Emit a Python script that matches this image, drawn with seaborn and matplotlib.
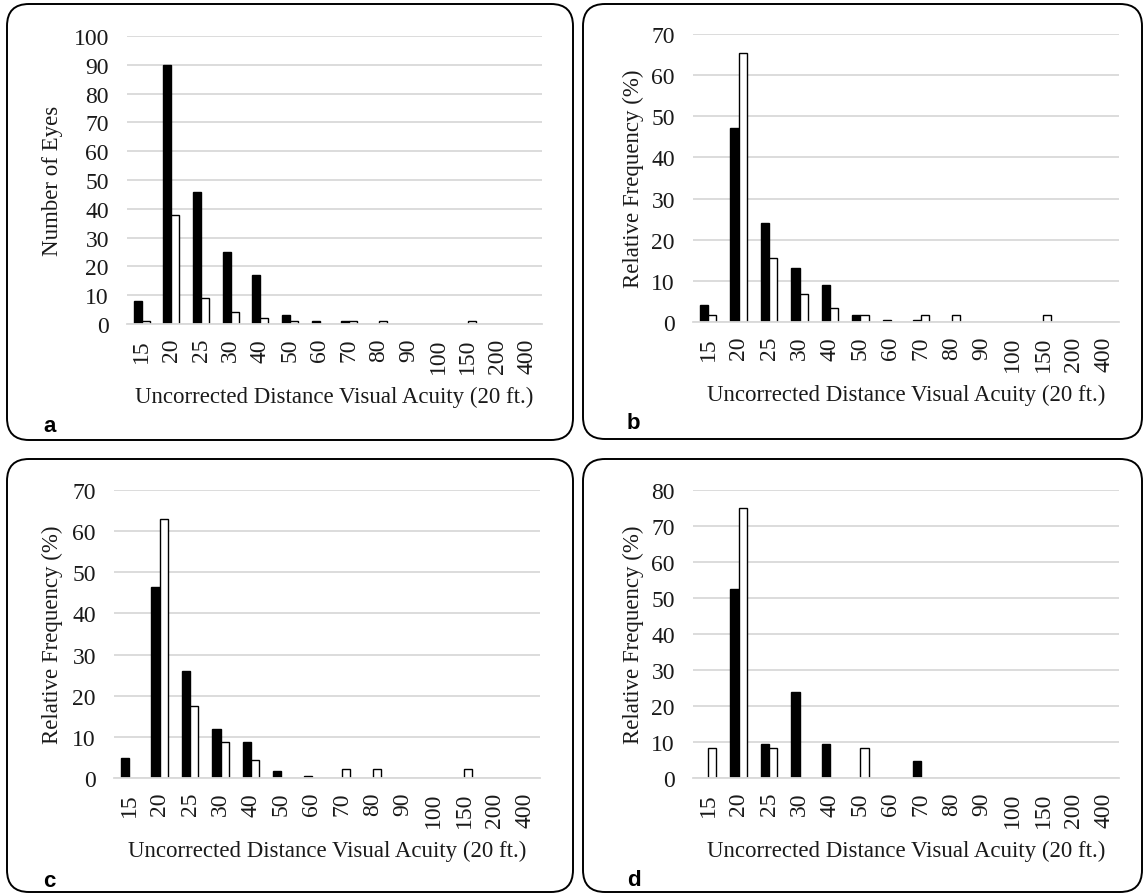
import matplotlib
matplotlib.use("Agg")
import matplotlib.pyplot as plt
from matplotlib.patches import FancyBboxPatch
from matplotlib.transforms import IdentityTransform
import numpy as np
import pandas as pd
import seaborn as sns

# ---------------- data ----------------
categories = ["15", "20", "25", "30", "40", "50", "60", "70", "80", "90",
              "100", "150", "200", "400"]

a_black = [8, 90, 46, 25, 17, 3, 1, 1, 0, 0, 0, 0, 0, 0]
a_white = [1, 38, 9, 4, 2, 1, 0, 1, 1, 0, 0, 1, 0, 0]

b_black = [4.2, 47.1, 24.1, 13.1, 8.9, 1.6, 0.5, 0.5, 0, 0, 0, 0, 0, 0]
b_white = [1.7, 65.5, 15.5, 6.9, 3.4, 1.7, 0, 1.7, 1.7, 0, 0, 1.7, 0, 0]

c_black = [4.8, 46.5, 26.0, 11.8, 8.7, 1.7, 0.4, 0, 0, 0, 0, 0, 0, 0]
c_white = [0, 63.0, 17.4, 8.7, 4.3, 0, 0, 2.2, 2.2, 0, 0, 2.2, 0, 0]

d_black = [0, 52.4, 9.5, 23.8, 9.5, 0, 0, 4.8, 0, 0, 0, 0, 0, 0]
d_white = [8.3, 75.0, 8.3, 0, 0, 8.3, 0, 0, 0, 0, 0, 0, 0, 0]

panel_letters = ["a", "b", "c", "d"]
y_labels = ["Number of Eyes", "Relative Frequency (%)",
            "Relative Frequency (%)", "Relative Frequency (%)"]
y_max = [100, 70, 70, 80]
x_label = "Uncorrected Distance Visual Acuity (20 ft.)"
groups = ["Black", "White"]

# ---------------- style ----------------
sns.set_theme(style="white")
plt.rcParams["font.family"] = ["Liberation Serif", "DejaVu Serif"]

W, H = 1144, 895
fig = plt.figure(figsize=(W / 100, H / 100), dpi=100)
fig.patch.set_facecolor("white")

# axes rectangles in pixels (left, top, right, bottom), top-origin
ax_px = [
    (127, 37, 542, 325),
    (693, 35, 1119, 323),
    (114, 491, 540, 779),
    (693, 491, 1119, 779),
]
box_px = [
    (7, 5, 573, 441),
    (583, 5, 1142, 440),
    (7, 460, 573, 893),
    (583, 460, 1142, 893),
]
ylabel_right_px = [63, 644, 63, 644]
letter_px = [(43, 426), (627, 424), (43, 882), (627, 881)]

series = [(a_black, a_white), (b_black, b_white),
          (c_black, c_white), (d_black, d_white)]

for i in range(4):
    l, t, r, b = ax_px[i]
    ax = fig.add_axes([l / W, 1 - b / H, (r - l) / W, (b - t) / H])
    blk, wht = series[i]
    df = pd.DataFrame({
        "VA": categories * 2,
        "value": list(blk) + list(wht),
        "group": [groups[0]] * len(categories) + [groups[1]] * len(categories),
    })
    df["value"] = df["value"].replace(0, np.nan)
    sns.barplot(data=df, x="VA", y="value", hue="group", order=categories,
                hue_order=groups, palette={"Black": "black", "White": "white"},
                edgecolor="black", linewidth=1.0, width=0.54, gap=0,
                dodge=True, errorbar=None, legend=False, ax=ax)
    ax.set_xlim(-0.5, len(categories) - 0.5)
    ax.set_ylim(0, y_max[i])
    ax.set_yticks(np.arange(0, y_max[i] + 1, 10))
    ax.yaxis.grid(True, color="#d9d9d9", linewidth=1.3)
    ax.xaxis.grid(False)
    ax.set_axisbelow(True)
    for s in ["top", "right", "left"]:
        ax.spines[s].set_visible(False)
    ax.spines["bottom"].set_color("#d9d9d9")
    ax.spines["bottom"].set_linewidth(1.3)
    ax.tick_params(axis="x", length=0, pad=10, labelsize=17, rotation=90,
                   colors="#1a1a1a")
    ax.tick_params(axis="y", length=0, pad=13, labelsize=17, colors="#1a1a1a")
    ax.set_xlabel(x_label, fontsize=16.5, labelpad=9, color="#1a1a1a")
    ax.set_ylabel(y_labels[i], fontsize=16.5, color="#1a1a1a")
    ax.yaxis.set_label_coords((ylabel_right_px[i] - l) / (r - l), 0.5)
    ax.set_facecolor("none")

    # rounded panel frame
    x0, y0, x1, y1 = box_px[i]
    frame = FancyBboxPatch((x0, H - y1), x1 - x0, y1 - y0,
                           boxstyle="round,pad=0,rounding_size=22",
                           transform=IdentityTransform(), fill=False,
                           edgecolor="black", linewidth=1.4)
    fig.add_artist(frame)

    lx, ly = letter_px[i]
    fig.text(lx / W, 1 - ly / H, panel_letters[i], fontsize=16,
             fontweight="bold", family=["Liberation Sans", "DejaVu Sans"],
             ha="left", va="center", color="black")

fig.savefig("out.png", dpi=100, facecolor="white")
